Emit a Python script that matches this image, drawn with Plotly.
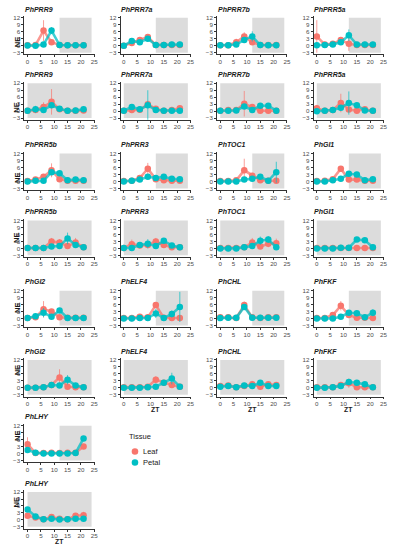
import plotly.graph_objects as go

ZT = [0, 3, 6, 9, 12, 15, 18, 21]
X_TICKS = [0, 5, 10, 15, 20, 25]
Y_TICKS = [-3, 0, 3, 6, 9, 12]
TISSUES = ["Leaf", "Petal"]

# ---- Row pair 1 ----
LEAF_PRR9_LD = [0.2, 0.3, 6.5, 1.5, 0.3, 0.2, 0.2, 0.2]
LEAF_PRR9_LD_SD = [0.2, 0.3, 4.5, 1.0, 0.2, 0.1, 0.1, 0.1]
PETAL_PRR9_LD = [0.1, 0.0, 0.5, 6.5, 0.3, 0.2, 0.2, 0.2]
PETAL_PRR9_LD_SD = [0.1, 0.1, 0.5, 1.5, 0.2, 0.1, 0.1, 0.1]

LEAF_PRR7A_LD = [0.0, 1.2, 2.5, 3.7, 0.3, 0.3, 0.3, 0.3]
LEAF_PRR7A_LD_SD = [0.1, 0.5, 0.8, 1.0, 0.2, 0.1, 0.1, 0.1]
PETAL_PRR7A_LD = [0.0, 2.0, 1.5, 3.0, 0.3, 0.3, 0.5, 0.5]
PETAL_PRR7A_LD_SD = [0.1, 1.0, 0.5, 0.8, 0.2, 0.1, 0.2, 0.2]

LEAF_PRR7B_LD = [0.2, 0.2, 1.5, 4.0, 1.5, 0.3, 0.3, 0.3]
LEAF_PRR7B_LD_SD = [0.2, 0.2, 1.5, 1.8, 0.8, 0.2, 0.1, 0.1]
PETAL_PRR7B_LD = [0.2, 0.2, 0.5, 2.5, 4.0, 0.3, 0.2, 0.2]
PETAL_PRR7B_LD_SD = [0.1, 0.1, 0.5, 1.0, 2.2, 0.2, 0.1, 0.1]

LEAF_PRR5A_LD = [4.0, 0.5, 0.8, 2.5, 0.8, 0.3, 0.3, 0.3]
LEAF_PRR5A_LD_SD = [7.0, 0.3, 0.5, 0.8, 3.0, 0.2, 0.2, 0.2]
PETAL_PRR5A_LD = [0.2, 0.3, 0.5, 1.5, 4.5, 0.5, 0.5, 0.5]
PETAL_PRR5A_LD_SD = [0.1, 0.1, 0.3, 0.5, 2.5, 0.3, 0.2, 0.2]

LEAF_PRR9_DD = [0.2, 0.5, 1.8, 4.0, 0.8, 0.2, 0.2, 0.3]
LEAF_PRR9_DD_SD = [0.1, 0.3, 2.0, 5.5, 0.5, 0.1, 0.1, 0.2]
PETAL_PRR9_DD = [0.2, 0.8, 0.5, 2.5, 1.0, 0.2, 0.3, 0.8]
PETAL_PRR9_DD_SD = [0.1, 1.5, 0.5, 1.0, 0.5, 0.1, 0.2, 0.5]

LEAF_PRR7A_DD = [0.2, 0.5, 0.6, 3.0, 1.0, 0.2, 0.5, 1.2]
LEAF_PRR7A_DD_SD = [0.1, 0.3, 0.3, 1.5, 0.5, 0.1, 0.3, 0.8]
PETAL_PRR7A_DD = [0.2, 1.8, 0.8, 2.5, 0.5, 0.2, 0.2, 0.2]
PETAL_PRR7A_DD_SD = [0.1, 0.8, 0.4, 6.5, 0.3, 0.1, 0.1, 0.2]

LEAF_PRR7B_DD = [0.2, 0.5, 0.5, 3.2, 1.8, 0.2, 0.2, 0.2]
LEAF_PRR7B_DD_SD = [0.1, 0.3, 0.3, 5.5, 1.0, 0.1, 0.1, 0.1]
PETAL_PRR7B_DD = [0.2, 0.2, 0.3, 2.0, 0.5, 2.3, 2.3, 0.2]
PETAL_PRR7B_DD_SD = [0.1, 0.1, 0.2, 1.0, 0.3, 0.8, 0.8, 0.1]

LEAF_PRR5A_DD = [1.2, 0.2, 0.5, 3.5, 0.7, 0.2, 0.8, 0.2]
LEAF_PRR5A_DD_SD = [1.5, 0.1, 0.3, 4.0, 0.5, 0.1, 1.2, 0.1]
PETAL_PRR5A_DD = [0.0, 0.2, 0.5, 1.5, 3.5, 2.5, 0.3, 0.2]
PETAL_PRR5A_DD_SD = [0.1, 0.1, 0.3, 0.8, 5.0, 1.0, 0.2, 0.1]

# ---- Row pair 2 ----
LEAF_PRR5B_LD = [0.2, 0.8, 2.0, 4.8, 1.0, 0.3, 0.3, 0.3]
LEAF_PRR5B_LD_SD = [0.1, 0.5, 1.0, 3.0, 0.8, 0.2, 0.2, 0.2]
PETAL_PRR5B_LD = [0.0, 0.3, 0.3, 4.0, 3.5, 0.5, 0.8, 0.5]
PETAL_PRR5B_LD_SD = [0.1, 0.2, 0.2, 1.0, 1.0, 0.3, 0.3, 0.3]

LEAF_PRR3_LD = [0.2, 0.3, 1.5, 5.5, 1.0, 0.5, 0.3, 0.3]
LEAF_PRR3_LD_SD = [0.1, 0.2, 0.5, 2.5, 0.5, 0.2, 0.2, 0.2]
PETAL_PRR3_LD = [0.0, 0.3, 0.8, 2.0, 1.5, 2.0, 1.2, 1.0]
PETAL_PRR3_LD_SD = [0.1, 0.2, 0.4, 0.8, 0.5, 0.8, 0.5, 0.5]

LEAF_TOC1_LD = [0.2, 0.2, 0.5, 4.8, 2.5, 0.5, 0.3, 0.3]
LEAF_TOC1_LD_SD = [0.1, 0.1, 0.3, 5.0, 1.2, 0.3, 0.2, 0.2]
PETAL_TOC1_LD = [0.0, 0.0, 0.0, 0.8, 1.2, 2.0, 0.3, 4.0]
PETAL_TOC1_LD_SD = [0.1, 0.1, 0.1, 0.4, 0.5, 0.8, 0.2, 4.5]

LEAF_GI1_LD = [0.2, 0.3, 1.0, 5.5, 0.8, 0.8, 0.3, 0.3]
LEAF_GI1_LD_SD = [0.1, 0.2, 0.4, 1.0, 0.4, 0.3, 0.2, 0.2]
PETAL_GI1_LD = [0.0, 0.0, 0.5, 1.2, 3.3, 3.0, 0.5, 1.0]
PETAL_GI1_LD_SD = [0.1, 0.1, 0.3, 0.5, 1.0, 0.8, 0.3, 0.4]

LEAF_PRR5B_DD = [0.2, 0.2, 0.2, 3.0, 2.5, 1.0, 2.5, 0.5]
LEAF_PRR5B_DD_SD = [0.1, 0.1, 0.1, 1.5, 1.5, 0.5, 2.0, 0.3]
PETAL_PRR5B_DD = [0.2, 0.2, 0.2, 0.8, 1.0, 4.3, 1.5, 0.5]
PETAL_PRR5B_DD_SD = [0.1, 0.1, 0.1, 0.5, 0.5, 2.5, 0.8, 0.3]

LEAF_PRR3_DD = [0.2, 1.8, 1.2, 1.5, 3.0, 1.5, 0.5, 0.5]
LEAF_PRR3_DD_SD = [0.1, 2.0, 0.8, 1.0, 1.5, 0.8, 0.3, 0.3]
PETAL_PRR3_DD = [0.2, 0.2, 1.5, 2.0, 1.0, 3.3, 1.2, 0.5]
PETAL_PRR3_DD_SD = [0.1, 0.1, 0.8, 2.0, 0.8, 0.8, 0.5, 0.3]

LEAF_TOC1_DD = [0.2, 0.2, 0.2, 0.5, 2.5, 0.8, 2.0, 2.2]
LEAF_TOC1_DD_SD = [0.1, 0.1, 0.1, 0.3, 2.0, 0.5, 1.5, 2.0]
PETAL_TOC1_DD = [0.0, 0.0, 0.0, 0.5, 1.0, 3.3, 3.8, 0.5]
PETAL_TOC1_DD_SD = [0.1, 0.1, 0.1, 0.3, 0.5, 1.8, 1.5, 0.3]

LEAF_GI1_DD = [0.2, 0.2, 0.2, 0.2, 0.2, 0.2, 0.2, 0.2]
LEAF_GI1_DD_SD = [0.1, 0.1, 0.1, 0.1, 0.1, 0.1, 0.1, 0.1]
PETAL_GI1_DD = [0.0, 0.0, 0.0, 0.3, 0.3, 3.8, 3.5, 0.5]
PETAL_GI1_DD_SD = [0.1, 0.1, 0.1, 0.2, 0.2, 0.5, 0.5, 0.3]

# ---- Row pair 3 ----
LEAF_GI2_LD = [0.2, 0.5, 4.0, 3.0, 0.5, 0.3, 0.3, 0.3]
LEAF_GI2_LD_SD = [0.1, 0.3, 3.5, 0.8, 0.3, 0.2, 0.2, 0.2]
PETAL_GI2_LD = [0.2, 1.0, 2.5, 0.8, 3.5, 0.2, 0.2, 0.2]
PETAL_GI2_LD_SD = [0.1, 0.8, 2.0, 0.5, 1.0, 0.1, 0.1, 0.1]

LEAF_ELF4_LD = [0.2, 0.2, 0.8, 0.5, 5.8, 0.3, 0.2, 0.2]
LEAF_ELF4_LD_SD = [0.1, 0.1, 0.3, 0.3, 1.0, 0.2, 0.1, 0.1]
PETAL_ELF4_LD = [0.0, 0.0, 0.2, 0.2, 2.2, 0.2, 2.0, 5.0]
PETAL_ELF4_LD_SD = [0.1, 0.1, 0.1, 0.1, 2.0, 0.1, 1.5, 6.5]

LEAF_CHL_LD = [0.5, 0.5, 0.2, 5.8, 0.5, 0.2, 0.5, 0.5]
LEAF_CHL_LD_SD = [0.2, 0.2, 0.1, 1.5, 0.3, 0.1, 0.2, 0.2]
PETAL_CHL_LD = [0.2, 0.3, 0.3, 5.0, 0.3, 0.3, 0.3, 0.3]
PETAL_CHL_LD_SD = [0.1, 0.1, 0.1, 0.8, 0.1, 0.1, 0.1, 0.1]

LEAF_FKF_LD = [0.2, 0.2, 1.5, 5.5, 1.5, 0.3, 0.3, 0.2]
LEAF_FKF_LD_SD = [0.1, 0.1, 0.5, 2.0, 0.8, 0.2, 0.2, 0.1]
PETAL_FKF_LD = [0.0, 0.0, 0.0, 0.8, 2.5, 2.3, 0.5, 2.5]
PETAL_FKF_LD_SD = [0.1, 0.1, 0.1, 0.4, 0.8, 0.8, 0.3, 1.5]

LEAF_GI2_DD = [0.0, 0.0, 0.3, 1.2, 4.5, 0.5, 0.3, 0.2]
LEAF_GI2_DD_SD = [0.1, 0.1, 0.2, 0.5, 3.5, 0.3, 0.2, 0.1]
PETAL_GI2_DD = [0.0, 0.0, 0.3, 1.2, 1.0, 3.5, 1.0, 0.3]
PETAL_GI2_DD_SD = [0.1, 0.1, 0.2, 0.5, 0.5, 2.0, 0.5, 0.2]

LEAF_ELF4_DD = [0.2, 0.2, 0.2, 0.5, 3.5, 2.2, 1.2, 0.5]
LEAF_ELF4_DD_SD = [0.1, 0.1, 0.1, 0.3, 1.5, 0.8, 0.5, 0.3]
PETAL_ELF4_DD = [0.0, 0.0, 0.0, 0.3, 0.5, 2.2, 4.0, 0.5]
PETAL_ELF4_DD_SD = [0.1, 0.1, 0.1, 0.2, 0.3, 0.8, 2.5, 0.3]

LEAF_CHL_DD = [0.8, 1.0, 0.2, 0.8, 1.5, 0.5, 1.5, 1.2]
LEAF_CHL_DD_SD = [0.3, 0.3, 0.1, 0.5, 1.5, 0.3, 1.0, 0.8]
PETAL_CHL_DD = [0.5, 0.8, 0.3, 1.0, 0.8, 2.2, 0.8, 0.8]
PETAL_CHL_DD_SD = [0.2, 0.3, 0.2, 0.8, 0.5, 0.8, 0.5, 0.4]

LEAF_FKF_DD = [0.2, 0.2, 0.2, 1.2, 2.0, 0.3, 0.2, 0.2]
LEAF_FKF_DD_SD = [0.1, 0.1, 0.1, 0.5, 2.0, 0.2, 0.1, 0.1]
PETAL_FKF_DD = [0.0, 0.0, 0.3, 0.8, 2.5, 2.2, 1.5, 0.2]
PETAL_FKF_DD_SD = [0.1, 0.1, 0.2, 0.4, 0.8, 0.8, 0.8, 0.1]

# ---- Row pair 4 ----
LEAF_LHY_LD = [4.0, 0.2, 0.2, 0.3, 0.2, 0.3, 0.3, 3.0]
LEAF_LHY_LD_SD = [3.0, 0.2, 0.1, 0.2, 0.1, 0.2, 0.2, 1.0]
PETAL_LHY_LD = [1.5, 0.3, 0.0, 0.0, 0.0, 0.0, 0.2, 6.5]
PETAL_LHY_LD_SD = [0.8, 0.2, 0.1, 0.1, 0.1, 0.1, 0.2, 1.0]

LEAF_LHY_DD = [1.8, 1.0, 0.3, 1.2, 0.5, 0.3, 1.8, 2.0]
LEAF_LHY_DD_SD = [0.8, 0.5, 0.2, 0.5, 0.3, 0.2, 1.0, 1.5]
PETAL_LHY_DD = [4.5, 1.5, 0.3, 0.5, 0.2, 0.3, 0.5, 0.5]
PETAL_LHY_DD_SD = [1.0, 0.5, 0.2, 0.3, 0.1, 0.2, 0.3, 0.3]

# dark period (start, end) for light/dark and constant-dark panels
DARK_LD = [12, 24]
DARK_DD = [0, 24]
SHADE_Y = [-3, 12]

# (title, row, col, dark period, leaf, leaf sd, petal, petal sd)
PANELS = [
    ("PhPRR9", 0, 0, DARK_LD, LEAF_PRR9_LD, LEAF_PRR9_LD_SD, PETAL_PRR9_LD, PETAL_PRR9_LD_SD),
    ("PhPRR7a", 0, 1, DARK_LD, LEAF_PRR7A_LD, LEAF_PRR7A_LD_SD, PETAL_PRR7A_LD, PETAL_PRR7A_LD_SD),
    ("PhPRR7b", 0, 2, DARK_LD, LEAF_PRR7B_LD, LEAF_PRR7B_LD_SD, PETAL_PRR7B_LD, PETAL_PRR7B_LD_SD),
    ("PhPRR5a", 0, 3, DARK_LD, LEAF_PRR5A_LD, LEAF_PRR5A_LD_SD, PETAL_PRR5A_LD, PETAL_PRR5A_LD_SD),
    ("PhPRR9", 1, 0, DARK_DD, LEAF_PRR9_DD, LEAF_PRR9_DD_SD, PETAL_PRR9_DD, PETAL_PRR9_DD_SD),
    ("PhPRR7a", 1, 1, DARK_DD, LEAF_PRR7A_DD, LEAF_PRR7A_DD_SD, PETAL_PRR7A_DD, PETAL_PRR7A_DD_SD),
    ("PhPRR7b", 1, 2, DARK_DD, LEAF_PRR7B_DD, LEAF_PRR7B_DD_SD, PETAL_PRR7B_DD, PETAL_PRR7B_DD_SD),
    ("PhPRR5a", 1, 3, DARK_DD, LEAF_PRR5A_DD, LEAF_PRR5A_DD_SD, PETAL_PRR5A_DD, PETAL_PRR5A_DD_SD),
    ("PhPRR5b", 2, 0, DARK_LD, LEAF_PRR5B_LD, LEAF_PRR5B_LD_SD, PETAL_PRR5B_LD, PETAL_PRR5B_LD_SD),
    ("PhPRR3", 2, 1, DARK_LD, LEAF_PRR3_LD, LEAF_PRR3_LD_SD, PETAL_PRR3_LD, PETAL_PRR3_LD_SD),
    ("PhTOC1", 2, 2, DARK_LD, LEAF_TOC1_LD, LEAF_TOC1_LD_SD, PETAL_TOC1_LD, PETAL_TOC1_LD_SD),
    ("PhGI1", 2, 3, DARK_LD, LEAF_GI1_LD, LEAF_GI1_LD_SD, PETAL_GI1_LD, PETAL_GI1_LD_SD),
    ("PhPRR5b", 3, 0, DARK_DD, LEAF_PRR5B_DD, LEAF_PRR5B_DD_SD, PETAL_PRR5B_DD, PETAL_PRR5B_DD_SD),
    ("PhPRR3", 3, 1, DARK_DD, LEAF_PRR3_DD, LEAF_PRR3_DD_SD, PETAL_PRR3_DD, PETAL_PRR3_DD_SD),
    ("PhTOC1", 3, 2, DARK_DD, LEAF_TOC1_DD, LEAF_TOC1_DD_SD, PETAL_TOC1_DD, PETAL_TOC1_DD_SD),
    ("PhGI1", 3, 3, DARK_DD, LEAF_GI1_DD, LEAF_GI1_DD_SD, PETAL_GI1_DD, PETAL_GI1_DD_SD),
    ("PhGI2", 4, 0, DARK_LD, LEAF_GI2_LD, LEAF_GI2_LD_SD, PETAL_GI2_LD, PETAL_GI2_LD_SD),
    ("PhELF4", 4, 1, DARK_LD, LEAF_ELF4_LD, LEAF_ELF4_LD_SD, PETAL_ELF4_LD, PETAL_ELF4_LD_SD),
    ("PhCHL", 4, 2, DARK_LD, LEAF_CHL_LD, LEAF_CHL_LD_SD, PETAL_CHL_LD, PETAL_CHL_LD_SD),
    ("PhFKF", 4, 3, DARK_LD, LEAF_FKF_LD, LEAF_FKF_LD_SD, PETAL_FKF_LD, PETAL_FKF_LD_SD),
    ("PhGI2", 5, 0, DARK_DD, LEAF_GI2_DD, LEAF_GI2_DD_SD, PETAL_GI2_DD, PETAL_GI2_DD_SD),
    ("PhELF4", 5, 1, DARK_DD, LEAF_ELF4_DD, LEAF_ELF4_DD_SD, PETAL_ELF4_DD, PETAL_ELF4_DD_SD),
    ("PhCHL", 5, 2, DARK_DD, LEAF_CHL_DD, LEAF_CHL_DD_SD, PETAL_CHL_DD, PETAL_CHL_DD_SD),
    ("PhFKF", 5, 3, DARK_DD, LEAF_FKF_DD, LEAF_FKF_DD_SD, PETAL_FKF_DD, PETAL_FKF_DD_SD),
    ("PhLHY", 6, 0, DARK_LD, LEAF_LHY_LD, LEAF_LHY_LD_SD, PETAL_LHY_LD, PETAL_LHY_LD_SD),
    ("PhLHY", 7, 0, DARK_DD, LEAF_LHY_DD, LEAF_LHY_DD_SD, PETAL_LHY_DD, PETAL_LHY_DD_SD),
]

W, H = 395, 550
COL_LEFT = [24.5, 121.5, 218.7, 316.0]
PANEL_W = 71.0
ROW_TOP = [14.2, 80.0, 150.7, 218.0, 288.5, 358.2, 424.2, 491.0]
PANEL_H = 38.5
X_RANGE = [-1.2, 25.2]
Y_RANGE = [-3.75, 12.75]

COLORS = {"Leaf": "#F8766D", "Petal": "#00BFC4"}
LINE_COLORS = {"Leaf": "rgba(248,118,109,0.75)", "Petal": "rgba(0,191,196,0.75)"}
ERR_COLORS = {"Leaf": "rgba(248,118,109,0.7)", "Petal": "rgba(0,191,196,0.7)"}
FONT = "Liberation Sans, Arial, sans-serif"
TICK_FONT = dict(family=FONT, size=6.2, color="#4d4d4d")

fig = go.Figure()
shapes = []
annotations = []
layout_axes = {}

for i, (title, r, c, dark, leaf, leaf_sd, petal, petal_sd) in enumerate(PANELS):
    n = i + 1
    xa = "x" if n == 1 else f"x{n}"
    ya = "y" if n == 1 else f"y{n}"
    x0 = COL_LEFT[c] / W
    x1 = (COL_LEFT[c] + PANEL_W) / W
    y1 = 1 - ROW_TOP[r] / H
    y0 = 1 - (ROW_TOP[r] + PANEL_H) / H
    axis_common = dict(showgrid=False, zeroline=False, showline=True, linecolor="#333333",
                       linewidth=0.8, ticks="outside", ticklen=2, tickwidth=0.8,
                       tickcolor="#333333", tickfont=TICK_FONT, fixedrange=True)
    layout_axes["xaxis" if n == 1 else f"xaxis{n}"] = dict(
        domain=[x0, x1], range=X_RANGE, anchor=ya, tickmode="array", tickvals=X_TICKS,
        ticklabelstandoff=-1, **axis_common)
    layout_axes["yaxis" if n == 1 else f"yaxis{n}"] = dict(
        domain=[y0, y1], range=Y_RANGE, anchor=xa, tickmode="array", tickvals=Y_TICKS,
        **axis_common)
    # dark-period shading as a filled polygon in data coordinates
    fig.add_trace(go.Scatter(
        x=[dark[0], dark[1], dark[1], dark[0], dark[0]],
        y=[SHADE_Y[0], SHADE_Y[0], SHADE_Y[1], SHADE_Y[1], SHADE_Y[0]],
        xaxis=xa, yaxis=ya, mode="lines", fill="toself", fillcolor="#dcdcdc",
        line=dict(width=0, color="rgba(0,0,0,0)"), showlegend=False, hoverinfo="skip"))
    for name, vals, sd in (("Leaf", leaf, leaf_sd), ("Petal", petal, petal_sd)):
        fig.add_trace(go.Scatter(
            x=ZT, y=vals, xaxis=xa, yaxis=ya, mode="lines", showlegend=False,
            line=dict(color=LINE_COLORS[name], width=2.6), hoverinfo="skip"))
        fig.add_trace(go.Scatter(
            x=ZT, y=vals, xaxis=xa, yaxis=ya, mode="markers", showlegend=False,
            marker=dict(color=COLORS[name], size=6.5, line=dict(width=0)),
            error_y=dict(type="data", array=sd, visible=True, color=ERR_COLORS[name],
                         thickness=1, width=0), name=name))
    annotations.append(dict(text=f"<b><i>{title}</i></b>", xref="paper", yref="paper",
                            x=(COL_LEFT[c] - 1.5) / W, y=1 - (ROW_TOP[r] - 1.5) / H,
                            xanchor="left", yanchor="bottom", showarrow=False,
                            font=dict(family=FONT, size=7, color="#1a1a1a")))
    if c == 0:
        annotations.append(dict(text="<b>NE</b>", xref="paper", yref="paper",
                                x=10.5 / W, y=1 - (ROW_TOP[r] + PANEL_H / 2) / H,
                                textangle=-90, showarrow=False,
                                font=dict(family=FONT, size=7.5, color="#1a1a1a")))
    if r == 7 or (r == 5 and c > 0):
        annotations.append(dict(text="<b>ZT</b>", xref="paper", yref="paper",
                                x=(COL_LEFT[c] + PANEL_W / 2) / W,
                                y=1 - (ROW_TOP[r] + PANEL_H + 13.0) / H,
                                showarrow=False, xanchor="center", yanchor="middle",
                                borderpad=0,
                                font=dict(family=FONT, size=6.8, color="#1a1a1a")))

# manual legend (keys as paper-space circles, labels as text)
LEG_X, LEG_TITLE_Y, LEG_Y0, LEG_DY, KEY_R = 128, 437, 452, 11, 3.3
annotations.append(dict(text="Tissue", xref="paper", yref="paper", x=LEG_X / W,
                        y=1 - LEG_TITLE_Y / H, xanchor="left", yanchor="middle",
                        showarrow=False, font=dict(family=FONT, size=7.5, color="#1a1a1a")))
for k, name in enumerate(TISSUES):
    cy = LEG_Y0 + k * LEG_DY
    cx = LEG_X + 8
    shapes.append(dict(type="circle", xref="paper", yref="paper",
                       x0=(cx - KEY_R) / W, x1=(cx + KEY_R) / W,
                       y0=1 - (cy + KEY_R) / H, y1=1 - (cy - KEY_R) / H,
                       fillcolor=COLORS[name], line=dict(width=0)))
    annotations.append(dict(text=name, xref="paper", yref="paper", x=(cx + 6) / W,
                            y=1 - cy / H, xanchor="left", yanchor="middle", showarrow=False,
                            font=dict(family=FONT, size=7.5, color="#1a1a1a")))

fig.update_layout(
    width=W, height=H, autosize=False,
    margin=dict(l=0, r=0, t=0, b=0),
    paper_bgcolor="white", plot_bgcolor="white",
    shapes=shapes, annotations=annotations, showlegend=False,
    **layout_axes,
)

# remove the browser's default 8px body margin so the figure sits at the page origin;
# hide the plotly mode bar
fig.write_html("out.html", config={"displayModeBar": False},
               post_script="document.body.style.margin='0px';")
